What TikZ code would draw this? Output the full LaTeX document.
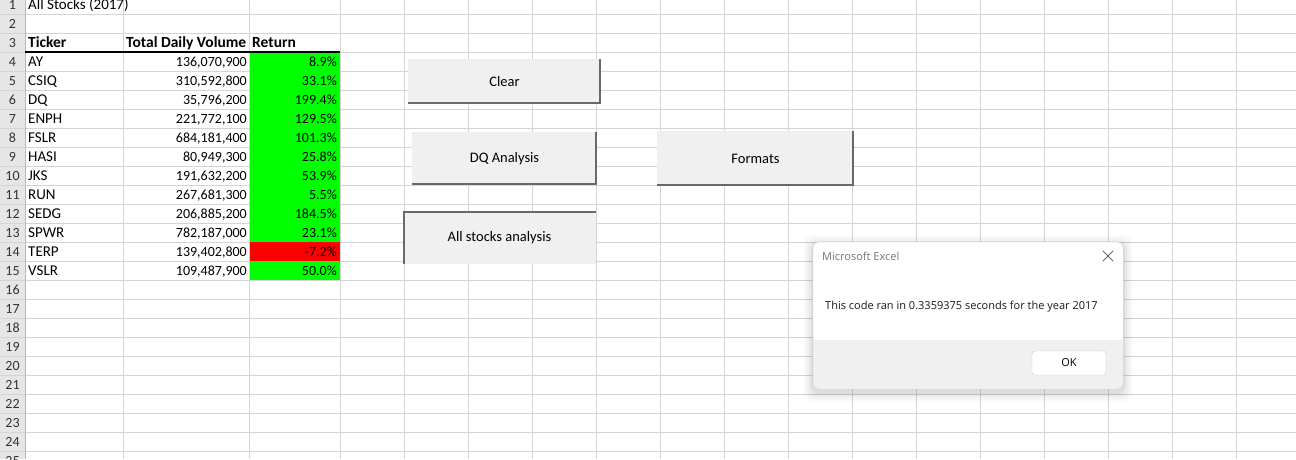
\documentclass[tikz,border=0pt]{standalone}
\usepackage{fontspec}
\setmainfont{Carlito}
\newfontfamily\dlgfont{Open Sans}

\definecolor{gridgray}{HTML}{D4D4D4}
\definecolor{hdrgray}{HTML}{E6E6E6}
\definecolor{hdrline}{HTML}{B9B9B9}
\definecolor{btnface}{HTML}{F0F0F0}
\definecolor{btndark}{HTML}{696969}
\definecolor{upgreen}{HTML}{00FF00}
\definecolor{downred}{HTML}{FF0000}
\definecolor{dlgpanel}{HTML}{F0F0F0}
\definecolor{dlgedge}{HTML}{CACACA}
\definecolor{titlegray}{HTML}{767676}

\tikzset{
	cellfont/.style={font=\fontsize{14}{16}\selectfont},
	lefttxt/.style={font=\fontsize{15}{17}\selectfont, inner sep=0pt, anchor=base west},
	hdrtxt/.style={lefttxt, font=\fontsize{15.5}{17}\selectfont\bfseries},
	righttxt/.style={cellfont, inner sep=0pt, anchor=base east},
	rowno/.style={cellfont, inner sep=0pt, anchor=base, text=black!80},
	button/.style={font=\fontsize{14.5}{16}\selectfont, fill=btnface, inner sep=0pt},
	btnshadow/.style={btndark, line width=2pt},
	dlgtext/.style={font=\dlgfont\fontsize{11}{13}\selectfont, inner sep=0pt, anchor=base west},
}

\begin{document}
\begin{tikzpicture}[x=1pt, y=-1pt]
	\useasboundingbox (0,0) rectangle (1296,459);
	\fill[white] (0,0) rectangle (1296,459);
	% row headers
	\fill[hdrgray] (0,0) rectangle (25,459);
	\foreach \r in {0,...,23}
		\draw[hdrline!60] (0,14+19*\r) -- (25,14+19*\r);
	% sheet grid
	\foreach \r in {0,...,23}
		\draw[gridgray] (25,14+19*\r) -- (1296,14+19*\r);
	\foreach \c in {123,249,340,404,468,...,1300}
		\draw[gridgray] (\c,0) -- (\c,459);
	\draw[hdrline] (25,0) -- (25,459);
	\foreach \k in {1,...,25}
		\node[rowno] (n\k) at (12.5,19*\k-10) {\k};

	% return colours
	\fill[upgreen] (249.5,52) rectangle (340,280);
	\fill[downred] (249.5,242) rectangle (340,261);
	\draw[black, line width=1.5pt] (25,52) -- (340,52);

	\node[lefttxt] (title) at (28,9) {All Stocks (2017)};
	\node[hdrtxt] (hticker) at (28,47) {Ticker};
	\node[hdrtxt] (hvolume) at (126,47) {Total Daily Volume};
	\node[hdrtxt] (hreturn) at (252,47) {Return};
	\foreach \k/\tick/\vol/\ret in {4/AY/{136,070,900}/8.9\%, 5/CSIQ/{310,592,800}/33.1\%,
		6/DQ/{35,796,200}/199.4\%, 7/ENPH/{221,772,100}/129.5\%, 8/FSLR/{684,181,400}/101.3\%,
		9/HASI/{80,949,300}/25.8\%, 10/JKS/{191,632,200}/53.9\%, 11/RUN/{267,681,300}/5.5\%,
		12/SEDG/{206,885,200}/184.5\%, 13/SPWR/{782,187,000}/23.1\%, 14/TERP/{139,402,800}/-7.2\%,
		15/VSLR/{109,487,900}/50.0\%}{
		\node[lefttxt] (tick\k) at (28,19*\k-10) {\tick};
		\node[righttxt] (vol\k) at (247,19*\k-10) {\vol};
		\node[righttxt] (ret\k) at (337,19*\k-10) {\ret};
	}

	% macro buttons
	\node[button, minimum width=193pt, minimum height=45pt] (clear) at (504.5,81.5) {Clear};
	\draw[btnshadow] ([xshift=-1pt]clear.north east) -- ([xshift=-1pt,yshift=1pt]clear.south east) -- ([yshift=1pt]clear.south west);
	\node[button, minimum width=185pt, minimum height=53pt] (dq) at (504.5,158.5) {DQ Analysis};
	\draw[btnshadow] ([xshift=-1pt]dq.north east) -- ([xshift=-1pt,yshift=1pt]dq.south east) -- ([yshift=1pt]dq.south west);
	\node[button, minimum width=197pt, minimum height=55pt] (formats) at (755.5,158.5) {Formats};
	\draw[btnshadow] ([xshift=-1pt]formats.north east) -- ([xshift=-1pt,yshift=1pt]formats.south east) -- ([yshift=1pt]formats.south west);
	\node[button, minimum width=193pt, minimum height=53pt] (allstocks) at (499.5,237.5) {All stocks analysis};
	\draw[btnshadow] ([yshift=-1pt]allstocks.north east) -- ([xshift=1pt,yshift=-1pt]allstocks.north west) -- ([xshift=1pt]allstocks.south west);

	% message box
	\foreach \s/\o in {10/0.015,8/0.02,6/0.025,4/0.03,2/0.04}
		\fill[black, opacity=\o, rounded corners=8pt] (813-\s,242-\s+3) rectangle (1123+\s,389+\s+3);
	\node[fill=white, rounded corners=6pt, minimum width=310pt, minimum height=147pt, inner sep=0pt] (dlg) at (968,315.5) {};
	\begin{scope}
		\clip[rounded corners=6pt] (dlg.north west) rectangle (dlg.south east);
		\fill[dlgpanel] (813,340) rectangle (1123,389);
	\end{scope}
	\draw[dlgedge, rounded corners=6pt] (dlg.north west) rectangle (dlg.south east);
	\node[dlgtext, text=titlegray] (dlgtitle) at (822,260) {Microsoft Excel};
	\node[minimum size=10pt, inner sep=0pt] (close) at (1108,256) {};
	\draw[black!60, line width=0.8pt] (close.north west) -- (close.south east) (close.north east) -- (close.south west);
	\node[dlgtext, text=black!90] (msg) at (825,309) {This code ran in 0.3359375 seconds for the year 2017};
	\node[draw=dlgedge, fill=white, rounded corners=3pt, minimum width=74pt, minimum height=24pt, inner sep=0pt, font=\dlgfont\fontsize{11}{13}\selectfont] (ok) at (1069,363) {OK};
\end{tikzpicture}
\end{document}
